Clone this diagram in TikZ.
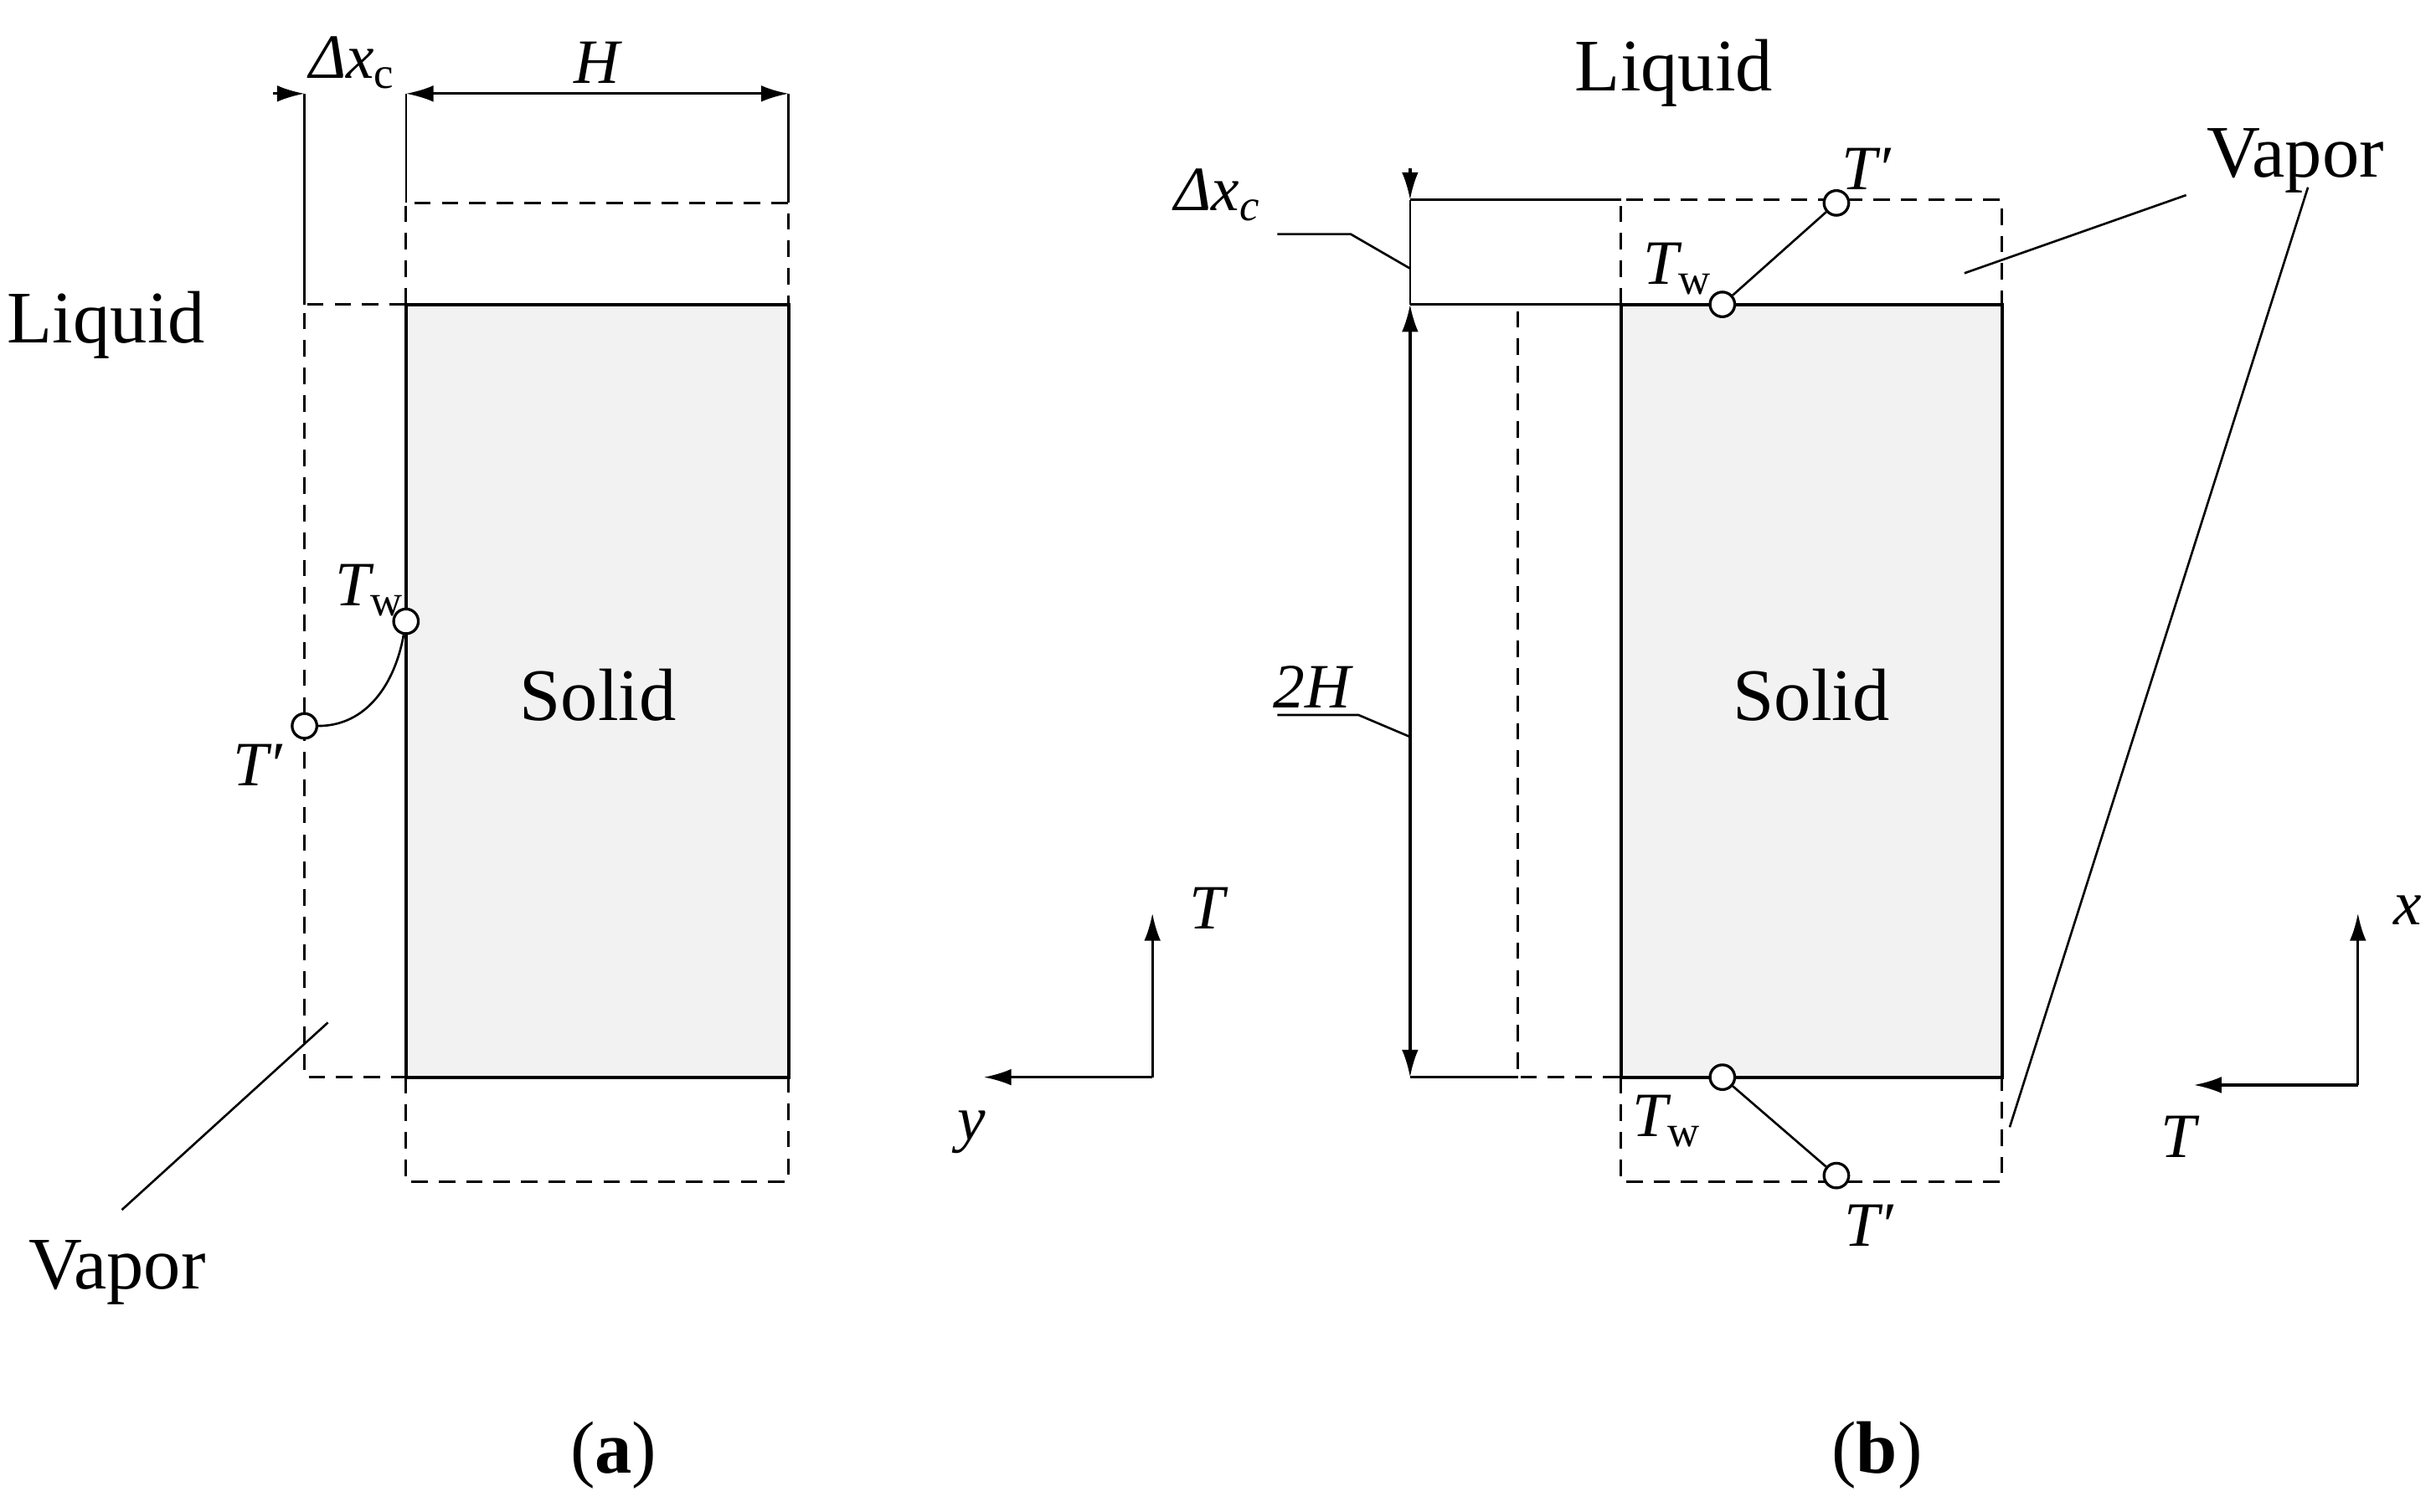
\documentclass[tikz,border=0pt]{standalone}
\usepackage{fontspec}
\setmainfont{Liberation Serif}
\usetikzlibrary{arrows.meta}
\definecolor{solidfill}{HTML}{F2F2F2}
\begin{document}
\begin{tikzpicture}[x=0.01cm,y=-0.01cm,
  big/.style={font=\fontsize{13.5}{16}\selectfont},
  lab/.style={font=\fontsize{11.5}{14}\selectfont\itshape},
  dsh/.style={densely dashed,line width=0.5pt},
  thin/.style={line width=0.4pt},
  arr/.style={-{Latex[length=5pt,width=3pt]},line width=0.5pt},
  darr/.style={{Latex[length=5pt,width=3pt]}-{Latex[length=5pt,width=3pt]},line width=0.5pt},
  pt/.style={circle,draw,fill=white,inner sep=0pt,minimum size=4.5pt,line width=0.5pt}]
\useasboundingbox (0,0) rectangle (1560,968);
% ---------- (a)
\draw[line width=0.6pt,fill=solidfill] (260,195) rectangle (505,690);
\draw[dsh] (260,195) -- (260,130) -- (505,130) -- (505,195);
\draw[dsh] (260,690) -- (260,757) -- (505,757) -- (505,690);
\draw[dsh] (260,195) -- (195,195) -- (195,690) -- (260,690);
\draw[thin] (195,195) -- (195,60);
\draw[thin] (260,130) -- (260,60);
\draw[thin] (505,130) -- (505,60);
\coordinate (a0) at (175,60); \coordinate (a1) at (195,60);
\coordinate (a2) at (260,60); \coordinate (a3) at (505,60);
\draw[arr] (a0) -- (a1);
\draw[darr] (a2) -- (a3);
\node[lab] (adx) at (226,40) {\textit{Δx}\textsubscript{\upshape c}};
\node[lab] (aH) at (382,40) {H};
\node[pt] (atw) at (260,398) {};
\node[pt] (atp) at (195,465) {};
\draw[thin] (atp) to[out=0,in=-100] (atw);
\node[lab] (atwl) at (237,378) {T\textsubscript{\upshape w}};
\node[lab] (atpl) at (165,490) {T′};
\node[big] (aliq) at (68,208) {Liquid};
\node[big] (asol) at (383,445) {Solid};
\node[big] (avap) at (75,815) {Vapor};
\coordinate (av1) at (78,775); \coordinate (av2) at (210,655);
\draw[thin] (av1) -- (av2);
\coordinate (ao) at (738,690); \coordinate (aT) at (738,585); \coordinate (ay) at (630,690);
\draw[arr] (ao) -- (aT); \draw[arr] (ao) -- (ay);
\node[lab] (aTl) at (773,582) {T};
\node[lab] (ayl) at (622,725) {y};
\node[big] (acap) at (393,932) {(\textbf{a})};
% ---------- (b)
\draw[line width=0.6pt,fill=solidfill] (1038,195) rectangle (1282,690);
\draw[dsh] (1038,195) -- (1038,128) -- (1282,128) -- (1282,195);
\draw[dsh] (1038,690) -- (1038,757) -- (1282,757) -- (1282,690);
\draw[dsh] (1038,195) -- (972,195) -- (972,690) -- (1038,690);
\draw[thin] (903,128) -- (1038,128);
\draw[thin] (903,195) -- (1038,195);
\draw[thin] (903,690) -- (972,690);
\draw[thin] (903,128) -- (903,195);
\coordinate (b0) at (903,108); \coordinate (b1) at (903,128);
\coordinate (b2) at (903,195); \coordinate (b3) at (903,690);
\draw[arr] (b0) -- (b1);
\draw[darr] (b2) -- (b3);
\node[lab] (bdx) at (780,125) {\textit{Δx\textsubscript{c}}};
\draw[thin] (818,150) -- (865,150) -- (903,172);
\node[lab] (b2H) at (840,440) {2H};
\draw[thin] (818,458) -- (870,458) -- (903,472);
\node[pt] (btw1) at (1103,195) {};
\node[pt] (btp1) at (1176,130) {};
\draw[thin] (btw1) -- (btp1);
\node[pt] (btw2) at (1103,690) {};
\node[pt] (btp2) at (1176,753) {};
\draw[thin] (btw2) -- (btp2);
\node[lab] (btw1l) at (1075,172) {T\textsubscript{\upshape w}};
\node[lab] (btp1l) at (1195,108) {T′};
\node[lab] (btw2l) at (1068,718) {T\textsubscript{\upshape w}};
\node[lab] (btp2l) at (1197,785) {T′};
\node[big] (bliq) at (1072,47) {Liquid};
\node[big] (bsol) at (1160,445) {Solid};
\node[big] (bvap) at (1470,103) {Vapor};
\coordinate (bv1) at (1400,125); \coordinate (bv2) at (1258,175);
\coordinate (bv3) at (1478,120); \coordinate (bv4) at (1287,722);
\draw[thin] (bv1) -- (bv2); \draw[thin] (bv3) -- (bv4);
\coordinate (bo) at (1510,695); \coordinate (bx) at (1510,585); \coordinate (bT) at (1405,695);
\draw[arr] (bo) -- (bx); \draw[arr] (bo) -- (bT);
\node[lab] (bxl) at (1542,583) {x};
\node[lab] (bTl) at (1395,728) {T};
\node[big] (bcap) at (1202,932) {(\textbf{b})};
\end{tikzpicture}
\end{document}
